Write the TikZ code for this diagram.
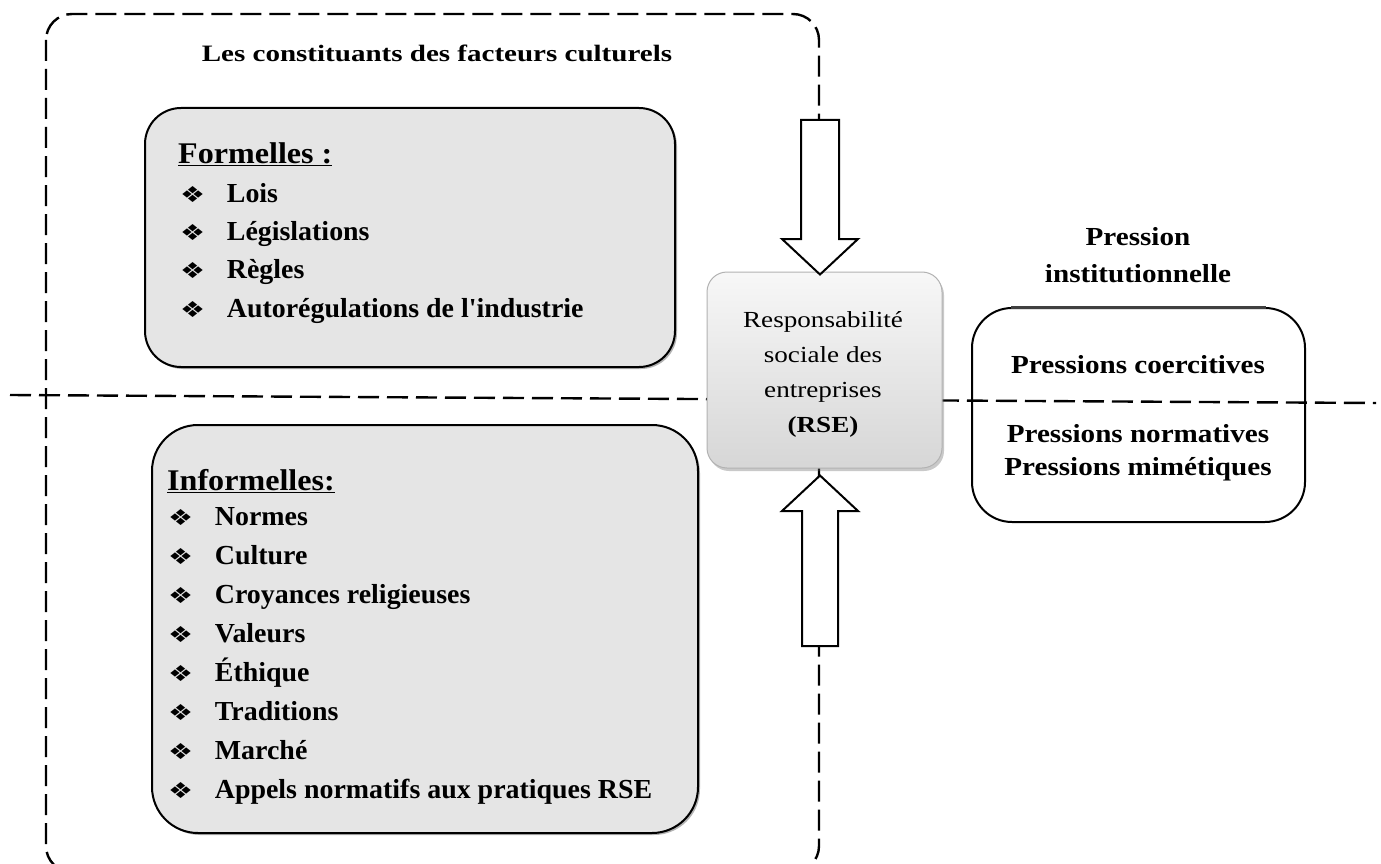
\documentclass[tikz,border=0pt]{standalone}
\usepackage{fontspec}
\setmainfont{Liberation Serif}[Ligatures=TeXOff]
\newfontfamily\dejavu{DejaVu Sans}
\usetikzlibrary{shadows,calc}
\newcommand{\bul}{\makebox[46pt][l]{\dejavu\fontsize{22}{22}\selectfont\scalebox{1.25}[1]{❖}}}
\tikzset{
  dashline/.style={line width=2.4pt, dash pattern=on 21pt off 8pt},
  grayb/.style={draw=black, line width=2pt, fill=white!90!black,
     drop shadow={shadow xshift=2pt, shadow yshift=-2pt, opacity=0.5, fill=black!60}},
  headtxt/.style={anchor=base west, inner sep=0pt, xscale=1.07, font=\fontsize{30}{30}\selectfont\bfseries},
  itemtxt/.style={anchor=base west, inner sep=0pt, xscale=1.015, font=\fontsize{27.5}{27.5}\selectfont\bfseries},
  prtxt/.style={anchor=base, inner sep=0pt, xscale=1.12, font=\fontsize{26}{26}\selectfont\bfseries},
  rsetxt/.style={anchor=base, inner sep=0pt, xscale=1.18, font=\fontsize{23}{23}\selectfont},
  blockarrow/.style={draw=black, line width=2pt, fill=white, line join=miter},
}
\begin{document}
\begin{tikzpicture}[x=1pt,y=-1pt]
\useasboundingbox (0,0) rectangle (1381,864);
\fill[white] (0,0) rectangle (1381,864);

% outer dashed frame (bottom edge falls outside the picture)
\draw[dashline, rounded corners=26pt] (46,14) rectangle (819,872);
% horizontal dashed divider
\draw[dashline] (10,395) -- (1376,403);

\node[font=\fontsize{23.5}{23.5}\selectfont\bfseries, xscale=1.235, anchor=base, inner sep=0pt] (title) at (437,62) {Les constituants des facteurs culturels};

% Formelles box
\node[grayb, rounded corners=36pt, minimum width=530pt, minimum height=259pt, inner sep=0pt] (formb) at (410,237.5) {};
\node[headtxt] (fh) at (178,163) {\underline{Formelles :}};
\node[itemtxt] (f1) at (180,202) {\bul Lois};
\node[itemtxt] (f2) at (180,240) {\bul Législations};
\node[itemtxt] (f3) at (180,278) {\bul Règles};
\node[itemtxt] (f4) at (180,317) {\bul Autorégulations de l'industrie};

% Informelles box
\node[grayb, rounded corners=46pt, minimum width=546pt, minimum height=408pt, inner sep=0pt] (informb) at (425,629) {};
\node[headtxt] (ih) at (167,490) {\underline{Informelles:}};
\node[itemtxt] (i1) at (168,525) {\bul Normes};
\node[itemtxt] (i2) at (168,564) {\bul Culture};
\node[itemtxt] (i3) at (168,603) {\bul Croyances religieuses};
\node[itemtxt] (i4) at (168,642) {\bul Valeurs};
\node[itemtxt] (i5) at (168,681) {\bul Éthique};
\node[itemtxt] (i6) at (168,720) {\bul Traditions};
\node[itemtxt] (i7) at (168,759) {\bul Marché};
\node[itemtxt] (i8) at (168,798) {\bul Appels normatifs aux pratiques RSE};

% RSE box
\node[draw=black!30, line width=1pt, rounded corners=20pt, top color=white!97!black, bottom color=white!84!black,
      minimum width=235pt, minimum height=196pt, inner sep=0pt,
      drop shadow={shadow xshift=2pt, shadow yshift=-3pt, opacity=0.35, fill=black!60}] (rse) at (824.5,370) {};
\node[rsetxt] (r1) at (823,327) {Responsabilité};
\node[rsetxt] (r2) at (823,362) {sociale des};
\node[rsetxt] (r3) at (823,397) {entreprises};
\node[rsetxt, font=\fontsize{23}{23}\selectfont\bfseries, xscale=1] (r4) at (823,432) {(RSE)};

% block arrows
\coordinate (dtail) at (820,120);
\coordinate (utail) at (820,646);
\draw[blockarrow] ($(dtail)+(-19,0)$) -- ($(dtail)+(19,0)$) -- (839,239) -- (858,239)
   -- ($(dtail |- rse.north)+(0,3)$) -- (782,239) -- (801,239) -- cycle;
\draw[blockarrow] ($(utail)+(-18,0)$) -- ($(utail)+(18,0)$) -- (838,511) -- (858,511)
   -- ($(utail |- rse.south)+(0,7)$) -- (782,511) -- (802,511) -- cycle;

% Pressure block
\node[prtxt] (p0) at (1138,245) {Pression};
\node[prtxt] (p00) at (1138,282) {institutionnelle};
\node[draw=black, line width=2pt, rounded corners=40pt, minimum width=333pt, minimum height=214pt, inner sep=0pt] (pbox) at (1138.5,415) {};
\draw[line width=3pt, black!75] ($(pbox.north west)+(40,0)$) -- ($(pbox.north east)+(-40,0)$);
\node[prtxt] (p1) at (1138,373) {Pressions coercitives};
\node[prtxt] (p2) at (1138,442) {Pressions normatives};
\node[prtxt] (p3) at (1138,475) {Pressions mimétiques};
\end{tikzpicture}
\end{document}
